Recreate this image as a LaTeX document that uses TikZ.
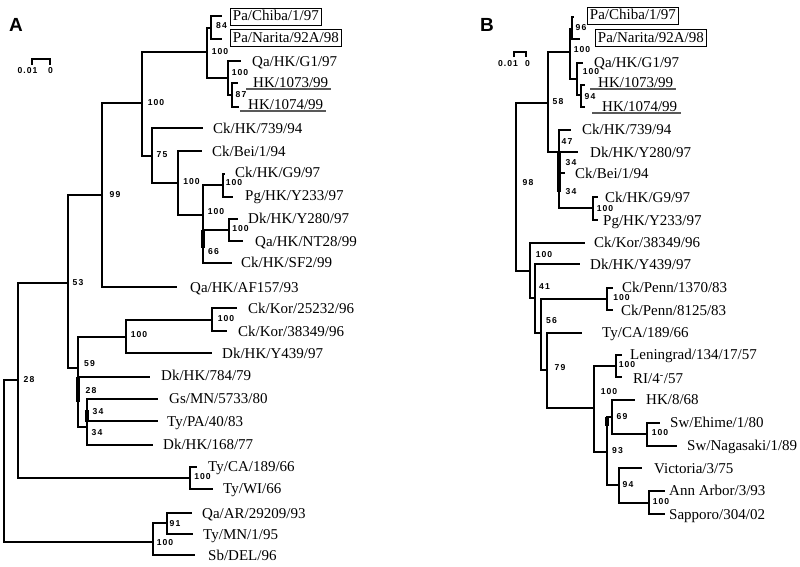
\documentclass[tikz,border=0pt]{standalone}
\usepackage{fontspec}
\setmainfont{Liberation Serif}
\newfontfamily\bsfont[LetterSpace=12]{Liberation Sans}
\newfontfamily\hdfont{Liberation Sans}
\usetikzlibrary{calc}
\begin{document}
\begin{tikzpicture}[x=1pt,y=-1pt,
  br/.style={line width=1.8pt},
  thickseg/.style={line width=3.6pt},
  leaf/.style={anchor=west,inner sep=0pt,text height=10.5pt,text depth=0pt,font=\fontsize{15}{15}\selectfont},
  boxed/.style={draw,line width=0.9pt,anchor=west,inner xsep=2.5pt,inner ysep=1.5pt,text height=11pt,text depth=3pt,font=\fontsize{15}{15}\selectfont},
  bs/.style={inner sep=0pt,font=\bsfont\bfseries\fontsize{8.6}{8.6}\selectfont},
  ul/.style={line width=1.1pt,black!65},
  sb/.style={line width=1.6pt},
  hd/.style={inner sep=0pt,font=\hdfont\bfseries\fontsize{19}{19}\selectfont}]
\useasboundingbox[fill=white] (0,0) rectangle (800,566);

% ================= Tree A =================
\node[hd] (hA) at (16,25) {A};
\draw[sb] (32,65) -- (32,59) -- (50,59) -- (50,65);
\node[bs] (sA1) at (27.5,71) {0.01};
\node[bs] (sA0) at (50.5,71) {0};

% internal nodes
\coordinate (a0) at (4,461);
\coordinate (a1) at (18,380);
\coordinate (a2) at (153,542);
\coordinate (a3) at (68,283);
\coordinate (a4) at (190,478);
\coordinate (a5) at (102,195);
\coordinate (a6) at (78,368);
\coordinate (a7) at (142,103);
\coordinate (a8) at (207,52);
\coordinate (a9) at (152,156);
\coordinate (a10) at (211,28);
\coordinate (a11) at (228,78);
\coordinate (a12) at (232,95);
\coordinate (a13) at (178,183);
\coordinate (a14) at (203,215);
\coordinate (a15) at (223,185);
\coordinate (a16) at (229,230);
\coordinate (a17) at (126,337);
\coordinate (a18) at (87,427);
\coordinate (a19) at (212,320);
\coordinate (a20) at (167,523);
% leaf ends
\coordinate (lChibaA) at (222,16);
\coordinate (lNaritaA) at (222,39);
\coordinate (lG1A) at (241,61);
\coordinate (l1073A) at (238,83);
\coordinate (l1074A) at (239,107);
\coordinate (l739A) at (203,128);
\coordinate (lBeiA) at (202,151);
\coordinate (lG9A) at (225,174);
\coordinate (lPgA) at (233,197);
\coordinate (lY280A) at (238,219);
\coordinate (lNT28A) at (243,241);
\coordinate (lSF2A) at (232,263);
\coordinate (lAF157A) at (177,287);
\coordinate (lKor1A) at (237,308);
\coordinate (lKor2A) at (227,331);
\coordinate (lY439A) at (212,353);
\coordinate (l784A) at (150,377);
\coordinate (lGsA) at (158,399);
\coordinate (lPAA) at (158,421);
\coordinate (l168A) at (153,445);
\coordinate (lCAA) at (197,467);
\coordinate (lWIA) at (213,489);
\coordinate (lARA) at (192,513);
\coordinate (lMNA) at (193,534);
\coordinate (lSbA) at (195,555);

\foreach \p/\c in {a0/a1,a0/a2,a1/a3,a1/a4,a3/a5,a3/a6,a5/a7,a5/lAF157A,
  a7/a8,a7/a9,a8/a10,a8/a11,a10/lChibaA,a10/lNaritaA,a11/lG1A,a11/a12,
  a12/l1073A,a12/l1074A,a9/l739A,a9/a13,a13/lBeiA,a13/a14,a14/a15,a14/a16,
  a14/lSF2A,a15/lG9A,a15/lPgA,a16/lY280A,a16/lNT28A,a6/a17,a6/l784A,a6/a18,
  a17/a19,a17/lY439A,a19/lKor1A,a19/lKor2A,a18/lGsA,a18/lPAA,a18/l168A,
  a4/lCAA,a4/lWIA,a2/a20,a2/lSbA,a20/lARA,a20/lMNA}
  \draw[br] (\p) |- (\c);
\draw[thickseg] (203,230) -- (203,248);
\draw[thickseg] (78,377) -- (78,402);
\draw[thickseg] (87,410) -- (87,422);

% bootstrap values A
\node[bs] at (221.5,26) {84};
\node[bs] at (220,52) {100};
\node[bs] at (240,73) {100};
\node[bs] at (241,95) {87};
\node[bs] at (156,103) {100};
\node[bs] at (162,155) {75};
\node[bs] at (191.5,182) {100};
\node[bs] at (234,183) {100};
\node[bs] at (216,212) {100};
\node[bs] at (240.5,229) {100};
\node[bs] at (213.5,252) {66};
\node[bs] at (115,195) {99};
\node[bs] at (78,283) {53};
\node[bs] at (139,335) {100};
\node[bs] at (226,319) {100};
\node[bs] at (89.5,364) {59};
\node[bs] at (91,391) {28};
\node[bs] at (98,412) {34};
\node[bs] at (97,433) {34};
\node[bs] at (29,380) {28};
\node[bs] at (202.5,477) {100};
\node[bs] at (165,543) {100};
\node[bs] at (175,524) {91};

% labels A
\node[boxed] (tChibaA) at (230,16.5) {Pa/Chiba/1/97};
\node[boxed] (tNaritaA) at (230,38) {Pa/Narita/92A/98};
\node[leaf] (tG1A) at (252,61) {Qa/HK/G1/97};
\node[leaf] (t1073A) at (253,82) {HK/1073/99};
\node[leaf] (t1074A) at (248,104) {HK/1074/99};
\draw[ul] ([xshift=-7pt,yshift=-1.5pt]t1073A.south west) -- ([xshift=3pt,yshift=-1.5pt]t1073A.south east);
\draw[ul] ([xshift=-8pt,yshift=-1.5pt]t1074A.south west) -- ([xshift=3pt,yshift=-1.5pt]t1074A.south east);
\node[leaf] (t739A) at (213,128) {Ck/HK/739/94};
\node[leaf] (tBeiA) at (212,151) {Ck/Bei/1/94};
\node[leaf] (tG9A) at (235,172) {Ck/HK/G9/97};
\node[leaf] (tPgA) at (245,195) {Pg/HK/Y233/97};
\node[leaf] (tY280A) at (248,218) {Dk/HK/Y280/97};
\node[leaf] (tNT28A) at (255,241) {Qa/HK/NT28/99};
\node[leaf] (tSF2A) at (241,262) {Ck/HK/SF2/99};
\node[leaf] (tAF157A) at (190,287) {Qa/HK/AF157/93};
\node[leaf] (tKor1A) at (248,308) {Ck/Kor/25232/96};
\node[leaf] (tKor2A) at (238,331) {Ck/Kor/38349/96};
\node[leaf] (tY439A) at (222,353) {Dk/HK/Y439/97};
\node[leaf] (t784A) at (161,375) {Dk/HK/784/79};
\node[leaf] (tGsA) at (169,398) {Gs/MN/5733/80};
\node[leaf] (tPAA) at (167,421) {Ty/PA/40/83};
\node[leaf] (t168A) at (163,444) {Dk/HK/168/77};
\node[leaf] (tCAA) at (208,466) {Ty/CA/189/66};
\node[leaf] (tWIA) at (223,488) {Ty/WI/66};
\node[leaf] (tARA) at (202,513) {Qa/AR/29209/93};
\node[leaf] (tMNA) at (203,534) {Ty/MN/1/95};
\node[leaf] (tSbA) at (208,555) {Sb/DEL/96};

% ================= Tree B =================
\node[hd] (hB) at (487,25) {B};
\draw[sb] (514,57) -- (514,52) -- (526,52) -- (526,57);
\node[bs] (sB1) at (508,64) {0.01};
\node[bs] (sB0) at (527.5,64) {0};

\coordinate (b0) at (516,183);
\coordinate (b1) at (548,103);
\coordinate (b2) at (530,271);
\coordinate (b3) at (570,52);
\coordinate (b4) at (559,152);
\coordinate (b5) at (572,29);
\coordinate (b6) at (577,79);
\coordinate (b7) at (581,95);
\coordinate (b8) at (593,208);
\coordinate (b9) at (535,298);
\coordinate (b10) at (541,333);
\coordinate (b11) at (607,299);
\coordinate (b12) at (547,370);
\coordinate (b13) at (594,408);
\coordinate (b14) at (616,366);
\coordinate (b15) at (607,452);
\coordinate (b16) at (612,417);
\coordinate (b17) at (619,485);
\coordinate (b18) at (647,434);
\coordinate (b19) at (649,503);

\coordinate (lChibaB) at (574,17);
\coordinate (lNaritaB) at (580,39);
\coordinate (lG1B) at (583,63);
\coordinate (l1073B) at (585,85);
\coordinate (l1074B) at (585,107);
\coordinate (l739B) at (571,130);
\coordinate (lY280B) at (578,152);
\coordinate (lBeiB) at (565,173);
\coordinate (lG9B) at (598,197);
\coordinate (lPgB) at (598,220);
\coordinate (lKorB) at (585,243);
\coordinate (lY439B) at (580,264);
\coordinate (lPenn1) at (613,288);
\coordinate (lPenn2) at (613,310);
\coordinate (lCAB) at (582,333);
\coordinate (lLen) at (622,355);
\coordinate (lRI) at (622,377);
\coordinate (lHK868) at (635,400);
\coordinate (lEhime) at (660,423);
\coordinate (lNaga) at (677,446);
\coordinate (lVic) at (642,468);
\coordinate (lAnn) at (665,491);
\coordinate (lSap) at (665,514);

\foreach \p/\c in {b0/b1,b0/b2,b1/b3,b1/b4,b3/b5,b3/b6,b5/lChibaB,b5/lNaritaB,
  b6/lG1B,b6/b7,b7/l1073B,b7/l1074B,b4/l739B,b4/lY280B,b4/lBeiB,b4/b8,
  b8/lG9B,b8/lPgB,b2/lKorB,b2/b9,b9/lY439B,b9/b10,b10/b11,b10/b12,
  b11/lPenn1,b11/lPenn2,b12/lCAB,b12/b13,b13/b14,b13/b15,b14/lLen,b14/lRI,
  b15/b16,b15/b17,b16/lHK868,b16/b18,b18/lEhime,b18/lNaga,b17/lVic,b17/b19,
  b19/lAnn,b19/lSap}
  \draw[br] (\p) |- (\c);
\draw[thickseg] (559,152) -- (559,192);
\draw[thickseg] (607,417) -- (607,426);

% bootstrap values B
\node[bs] at (581,28) {96};
\node[bs] at (582,50) {100};
\node[bs] at (591,72) {100};
\node[bs] at (590,97) {94};
\node[bs] at (558,102) {58};
\node[bs] at (567,142) {47};
\node[bs] at (571,163) {34};
\node[bs] at (571,192) {34};
\node[bs] at (605,209) {100};
\node[bs] at (528,183) {98};
\node[bs] at (544,255) {100};
\node[bs] at (544.5,287) {41};
\node[bs] at (621.5,298) {100};
\node[bs] at (551.5,321) {56};
\node[bs] at (560,368) {79};
\node[bs] at (609,392) {100};
\node[bs] at (627,365) {100};
\node[bs] at (617.5,451) {93};
\node[bs] at (622,417) {69};
\node[bs] at (660,433) {100};
\node[bs] at (628,485) {94};
\node[bs] at (661,502) {100};

% labels B
\node[boxed] (tChibaB) at (587,15.5) {Pa/Chiba/1/97};
\node[boxed] (tNaritaB) at (595,38) {Pa/Narita/92A/98};
\node[leaf] (tG1B) at (594,62) {Qa/HK/G1/97};
\node[leaf] (t1073B) at (598,82) {HK/1073/99};
\node[leaf] (t1074B) at (602,106) {HK/1074/99};
\draw[ul] ([xshift=-8pt,yshift=-1.5pt]t1073B.south west) -- ([xshift=3pt,yshift=-1.5pt]t1073B.south east);
\draw[ul] ([xshift=-10pt,yshift=-1.5pt]t1074B.south west) -- ([xshift=4pt,yshift=-1.5pt]t1074B.south east);
\node[leaf] (t739B) at (582,129) {Ck/HK/739/94};
\node[leaf] (tY280B) at (590,152) {Dk/HK/Y280/97};
\node[leaf] (tBeiB) at (575,173) {Ck/Bei/1/94};
\node[leaf] (tG9B) at (605,197) {Ck/HK/G9/97};
\node[leaf] (tPgB) at (603,220) {Pg/HK/Y233/97};
\node[leaf] (tKorB) at (594,242) {Ck/Kor/38349/96};
\node[leaf] (tY439B) at (590,264) {Dk/HK/Y439/97};
\node[leaf] (tPenn1) at (622,287) {Ck/Penn/1370/83};
\node[leaf] (tPenn2) at (621,310) {Ck/Penn/8125/83};
\node[leaf] (tCAB) at (602,332) {Ty/CA/189/66};
\node[leaf] (tLen) at (630,354) {Leningrad/134/17/57};
\node[leaf] (tRI) at (633,378) {RI/4\textsuperscript{-}/57};
\node[leaf] (tHK868) at (646,399) {HK/8/68};
\node[leaf] (tEhime) at (670,422) {Sw/Ehime/1/80};
\node[leaf] (tNaga) at (687,445) {Sw/Nagasaki/1/89};
\node[leaf] (tVic) at (654,468) {Victoria/3/75};
\node[leaf] (tAnn) at (669,490) {Ann Arbor/3/93};
\node[leaf] (tSap) at (669,514) {Sapporo/304/02};
\end{tikzpicture}
\end{document}
